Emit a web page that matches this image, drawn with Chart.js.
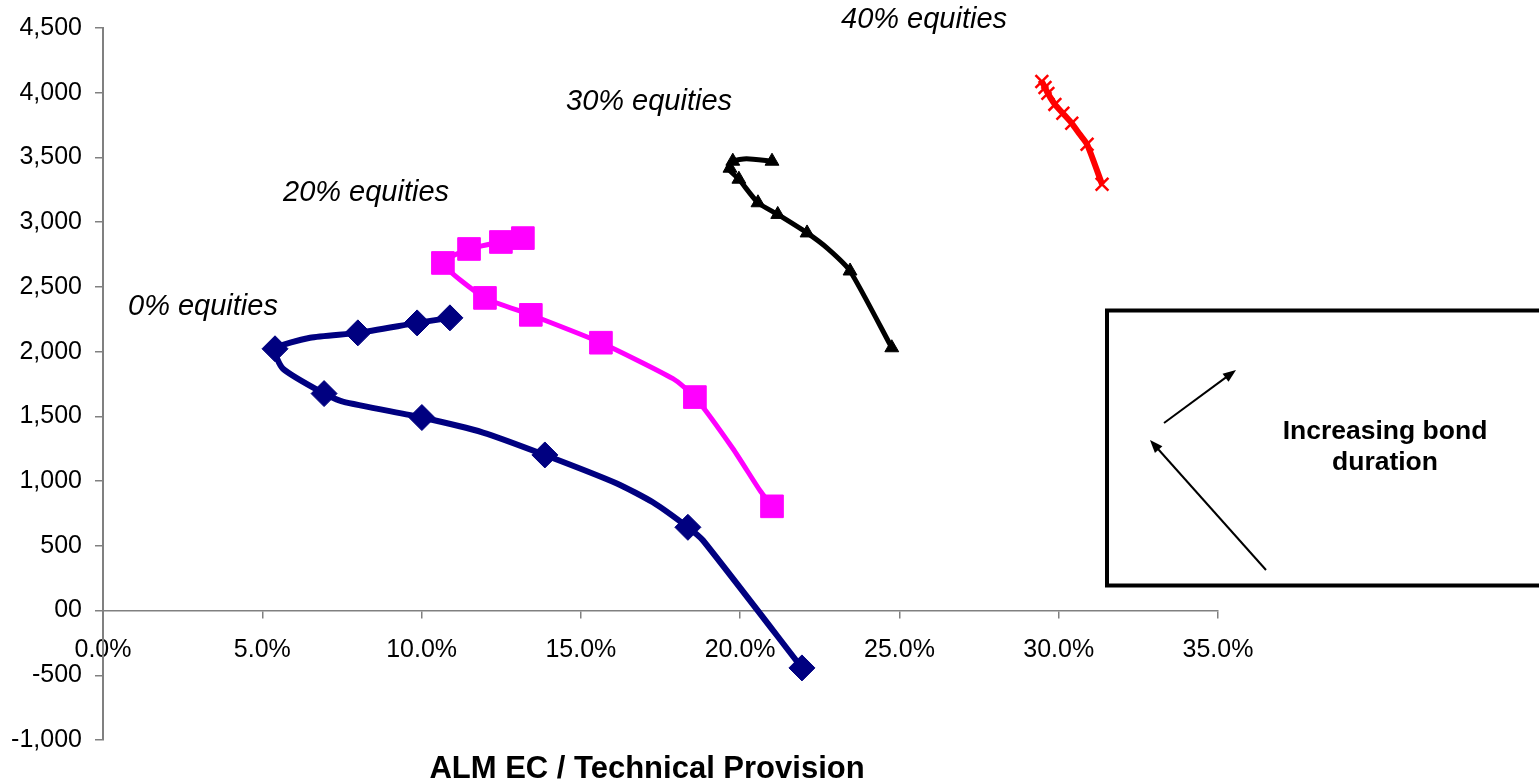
<!DOCTYPE html>
<html>
<head>
<meta charset="utf-8">
<script src="https://cdn.jsdelivr.net/npm/chart.js@4.4.1/dist/chart.umd.min.js"></script>
<style>
  html, body { margin: 0; padding: 0; background: #fff; overflow: hidden; }
  #wrap { width: 1539px; height: 781px; }
</style>
</head>
<body>
<div id="wrap"><canvas id="chart"></canvas></div>
<script>
// Data (x = ALM EC / TP in %, y = value)
const eq0LineX = [10.89, 9.86, 8.00, 6.50, 5.40, 5.65, 6.94, 7.53, 10.01, 11.93, 13.87, 16.13, 17.26, 18.36, 18.83, 21.94];
const eq0LineY = [2261, 2222, 2145, 2107, 2022, 1868, 1676, 1614, 1491, 1375, 1202, 982, 836, 643, 543, -443];
const eq0MarkX = [10.89, 9.86, 8.00, 5.40, 6.94, 10.01, 13.87, 18.36, 21.94];
const eq0MarkY = [2261, 2222, 2145, 2022, 1676, 1491, 1202, 643, -443];

const eq20LineX = [13.18, 12.49, 11.49, 10.67, 11.99, 13.43, 15.63, 17.89, 18.58, 19.77, 20.62, 21.00];
const eq20LineY = [2877, 2847, 2793, 2685, 2415, 2284, 2069, 1791, 1649, 1252, 928, 805];
const eq20MarkX = [13.18, 12.49, 11.49, 10.67, 11.99, 13.43, 15.63, 18.58, 21.00];
const eq20MarkY = [2877, 2847, 2793, 2685, 2415, 2284, 2069, 1649, 805];

const eq30LineX = [21.00, 20.20, 19.77, 19.62, 19.96, 20.56, 21.18, 22.10, 22.76, 23.45, 24.76];
const eq30LineY = [3471, 3490, 3471, 3417, 3332, 3150, 3060, 2917, 2794, 2623, 2030];
const eq30MarkX = [21.00, 19.77, 19.68, 19.96, 20.56, 21.18, 22.10, 23.45, 24.76];
const eq30MarkY = [3471, 3471, 3417, 3332, 3150, 3060, 2917, 2623, 2030];

const eq40LineX = [29.47, 29.57, 29.66, 29.88, 30.13, 30.41, 30.66, 30.89, 31.36];
const eq40LineY = [4086, 4040, 3995, 3910, 3841, 3764, 3679, 3602, 3293];
const eq40MarkX = [29.47, 29.57, 29.66, 29.88, 30.13, 30.41, 30.89, 31.36];
const eq40MarkY = [4086, 4040, 3995, 3910, 3841, 3764, 3602, 3293];

const xTickStep = 5;
const yTickStep = 500;

function pts(xs, ys) {
  return xs.map((x, i) => ({ x: x, y: ys[i] }));
}

const FONT = "'Liberation Sans', Arial, sans-serif";

function lineSet(xs, ys, color, width) {
  return {
    data: pts(xs, ys),
    showLine: true,
    borderColor: color,
    borderWidth: width,
    tension: 0.2,
    pointRadius: 0,
    order: 2
  };
}

function markSet(xs, ys, color, style, radius, bw) {
  return {
    data: pts(xs, ys),
    showLine: false,
    pointStyle: style,
    pointRadius: radius,
    pointBackgroundColor: color,
    pointBorderColor: color,
    pointBorderWidth: bw,
    order: 1
  };
}

// Text labels, box and arrows
const annotations = {
  id: 'annotations',
  afterDraw(chart) {
    const ctx = chart.ctx;
    ctx.save();
    ctx.fillStyle = '#000';
    ctx.textBaseline = 'middle';
    ctx.textAlign = 'left';
    ctx.font = 'italic 29px ' + FONT;
    ctx.fillText('0% equities', 128, 307);
    ctx.fillText('20% equities', 283, 193);
    ctx.fillText('30% equities', 566, 102);
    ctx.fillText('40% equities', 841, 20);

    ctx.strokeStyle = '#000';
    ctx.lineWidth = 4;
    ctx.strokeRect(1107, 310.5, 520, 275);

    function arrow(x1, y1, x2, y2) {
      const a = Math.atan2(y2 - y1, x2 - x1);
      const len = 13, half = 5;
      ctx.lineWidth = 2;
      ctx.beginPath();
      ctx.moveTo(x1, y1);
      ctx.lineTo(x2 - Math.cos(a) * len * 0.8, y2 - Math.sin(a) * len * 0.8);
      ctx.stroke();
      ctx.beginPath();
      ctx.moveTo(x2, y2);
      ctx.lineTo(x2 - Math.cos(a) * len - Math.sin(a) * half, y2 - Math.sin(a) * len + Math.cos(a) * half);
      ctx.lineTo(x2 - Math.cos(a) * len + Math.sin(a) * half, y2 - Math.sin(a) * len - Math.cos(a) * half);
      ctx.closePath();
      ctx.fill();
    }
    arrow(1164, 423, 1236, 370);
    arrow(1266, 570, 1150, 440);

    ctx.textAlign = 'center';
    ctx.font = 'bold 26.5px ' + FONT;
    ctx.fillText('Increasing bond', 1385, 432);
    ctx.fillText('duration', 1385, 463);

    ctx.font = 'bold 31px ' + FONT;
    ctx.fillText('ALM EC / Technical Provision', 647, 769);
    ctx.restore();
  }
};

const tickFont = { family: FONT, size: 25 };

new Chart(document.getElementById('chart'), {
  type: 'scatter',
  data: {
    datasets: [
      markSet(eq0MarkX, eq0MarkY, '#000080', 'rectRot', 13, 1),
      markSet(eq20MarkX, eq20MarkY, '#FF00FF', 'rect', 16, 1),
      markSet(eq30MarkX, eq30MarkY, '#000000', 'triangle', 8, 1),
      markSet(eq40MarkX, eq40MarkY, '#FF0000', 'crossRot', 9, 2.5),
      lineSet(eq0LineX, eq0LineY, '#000080', 6),
      lineSet(eq20LineX, eq20LineY, '#FF00FF', 5),
      lineSet(eq30LineX, eq30LineY, '#000000', 5),
      lineSet(eq40LineX, eq40LineY, '#FF0000', 6)
    ]
  },
  options: {
    responsive: true,
    maintainAspectRatio: false,
    animation: false,
    layout: { padding: { left: 0, top: 26, right: 321, bottom: 41 } },
    plugins: {
      legend: { display: false },
      tooltip: { enabled: false },
      title: { display: false }
    },
    scales: {
      x: {
        type: 'linear',
        position: { y: 0 },
        min: 0,
        max: 35,
        ticks: {
          stepSize: xTickStep,
          autoSkip: false,
          maxRotation: 0,
          padding: 18,
          color: '#000',
          font: tickFont,
          callback: v => v.toFixed(1) + '%'
        },
        grid: { drawOnChartArea: false, drawTicks: true, tickLength: 7, color: '#808080', lineWidth: 1.5 },
        border: { color: '#808080', width: 1.5 }
      },
      y: {
        type: 'linear',
        position: 'left',
        min: -1000,
        max: 4500,
        ticks: {
          stepSize: yTickStep,
          padding: 13,
          color: '#000',
          font: tickFont,
          callback: v => v === 0 ? '00' : Number(v).toLocaleString('en-US')
        },
        grid: { drawOnChartArea: false, drawTicks: true, tickLength: 8, color: '#808080', lineWidth: 1.5 },
        border: { color: '#808080', width: 2 },
        afterFit: s => { s.width = 103; }
      }
    }
  },
  plugins: [annotations]
});
</script>
</body>
</html>
